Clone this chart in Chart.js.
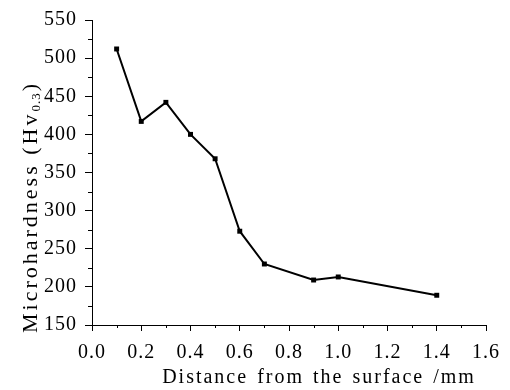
<!DOCTYPE html>
<html>
<head>
<meta charset="utf-8">
<script src="https://cdn.jsdelivr.net/npm/chart.js@4/dist/chart.umd.min.js"></script>
<style>
  html, body { margin: 0; padding: 0; background: #fff; }
  #wrap { width: 510px; height: 390px; }
</style>
</head>
<body>
<div id="wrap"><canvas id="hardness"></canvas></div>
<script>
// distance from surface (mm) and measured microhardness
const distance = [0.1, 0.2, 0.3, 0.4, 0.5, 0.6, 0.7, 0.9, 1.0, 1.4];
const hardness = [512, 417, 442, 400, 368, 273, 230, 209, 213, 189];

const xTitle = 'Distance from the surface /mm';
const yTitleMain = 'Microhardness (Hv';
const yTitleSub = '0.3';
const yTitleEnd = ')';

const serif = "'Liberation Serif', 'Times New Roman', serif";

// spacing of the letters, the source uses a wide serif
const spacing = {
  id: 'spacing',
  beforeUpdate(chart) { chart.ctx.letterSpacing = '1px'; },
  beforeDraw(chart) { chart.ctx.letterSpacing = '1px'; }
};

// short ticks half way between the labelled ones
const minorTicks = {
  id: 'minorTicks',
  afterDraw(chart) {
    const ctx = chart.ctx;
    const xs = chart.scales.x, ys = chart.scales.y;
    ctx.save();
    ctx.strokeStyle = '#000';
    ctx.lineWidth = 1;
    ctx.beginPath();
    for (let i = 0; i < xs.ticks.length - 1; i++) {
      const v = (xs.ticks[i].value + xs.ticks[i + 1].value) / 2;
      const px = Math.round(xs.getPixelForValue(v)) + 0.5;
      ctx.moveTo(px, xs.top);
      ctx.lineTo(px, xs.top + 3);
    }
    for (let i = 0; i < ys.ticks.length - 1; i++) {
      const v = (ys.ticks[i].value + ys.ticks[i + 1].value) / 2;
      const py = Math.round(ys.getPixelForValue(v)) + 0.5;
      ctx.moveTo(ys.right, py);
      ctx.lineTo(ys.right - 4, py);
    }
    ctx.stroke();
    ctx.restore();
  }
};

// axis titles, y one needs a subscript
const axisTitles = {
  id: 'axisTitles',
  afterDraw(chart) {
    const ctx = chart.ctx;
    const area = chart.chartArea;
    ctx.save();
    ctx.fillStyle = '#000';
    ctx.textBaseline = 'alphabetic';

    ctx.letterSpacing = '2px';
    ctx.wordSpacing = '2px';
    ctx.font = '20px ' + serif;
    ctx.textAlign = 'center';
    ctx.fillText(xTitle, (area.left + area.right) / 2 + 30, area.bottom + 58);

    ctx.wordSpacing = '0px';
    ctx.translate(37, (area.top + area.bottom) / 2 + 35);
    ctx.rotate(-Math.PI / 2);
    ctx.textAlign = 'left';
    ctx.letterSpacing = '3px';
    ctx.font = '22px ' + serif;
    const w1 = ctx.measureText(yTitleMain).width;
    const w3 = ctx.measureText(yTitleEnd).width;
    ctx.letterSpacing = '1px';
    ctx.font = '13px ' + serif;
    const w2 = ctx.measureText(yTitleSub).width;
    let x = -(w1 + w2 + w3) / 2;
    ctx.letterSpacing = '3px';
    ctx.font = '22px ' + serif;
    ctx.fillText(yTitleMain, x, 0);
    x += w1;
    ctx.letterSpacing = '1px';
    ctx.font = '13px ' + serif;
    ctx.fillText(yTitleSub, x, 3);
    x += w2 + 1;
    ctx.letterSpacing = '3px';
    ctx.font = '22px ' + serif;
    ctx.fillText(yTitleEnd, x, 0);
    ctx.restore();
  }
};

const ctx = document.getElementById('hardness');
new Chart(ctx, {
  type: 'scatter',
  data: {
    datasets: [{
      data: distance.map((d, i) => ({ x: d, y: hardness[i] })),
      showLine: true,
      borderColor: '#000',
      borderWidth: 2,
      backgroundColor: '#000',
      pointStyle: 'rect',
      pointRadius: 3.5,
      pointBorderWidth: 0
    }]
  },
  options: {
    responsive: true,
    maintainAspectRatio: false,
    animation: false,
    layout: { padding: { top: 16, right: 19, left: 0, bottom: 0 } },
    plugins: {
      legend: { display: false },
      tooltip: { enabled: false }
    },
    scales: {
      x: {
        type: 'linear',
        min: 0,
        max: 1.6,
        afterFit(scale) { scale.height = 65; },
        border: { color: '#000', width: 1 },
        grid: { drawOnChartArea: false, tickLength: 6, tickColor: '#000' },
        ticks: {
          stepSize: 0.2,
          padding: 10,
          color: '#000',
          font: { family: serif, size: 20 },
          maxRotation: 0,
          callback: v => v.toFixed(1)
        }
      },
      y: {
        min: 150,
        max: 550,
        afterFit(scale) { scale.width = 92; },
        border: { color: '#000', width: 1 },
        grid: { drawOnChartArea: false, tickLength: 7, tickColor: '#000' },
        ticks: {
          stepSize: 50,
          padding: 8,
          color: '#000',
          font: { family: serif, size: 20 }
        }
      }
    }
  },
  plugins: [spacing, minorTicks, axisTitles]
});
</script>
</body>
</html>
